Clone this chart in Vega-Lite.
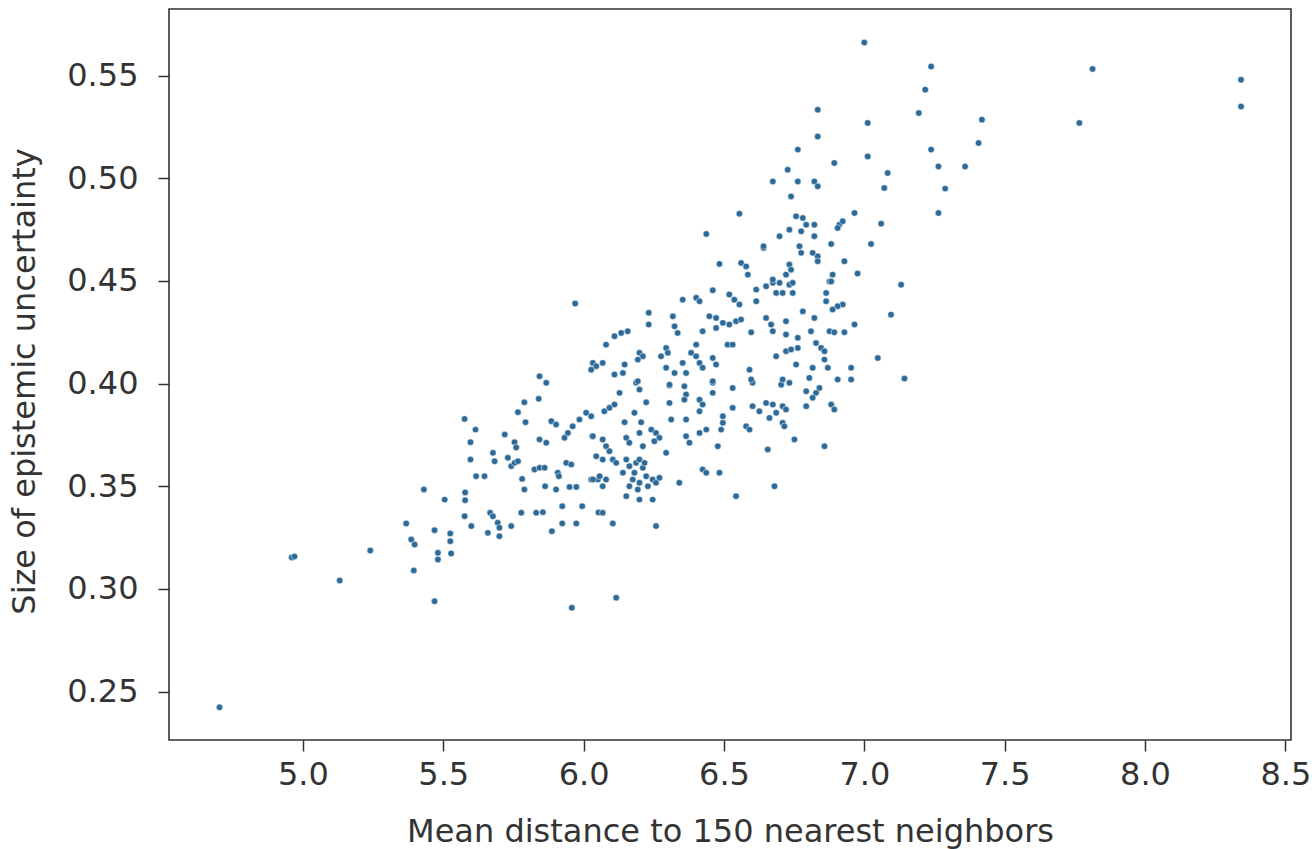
{
  "$schema": "https://vega.github.io/schema/vega-lite/v6.json",
  "width": 1122,
  "height": 731,
  "autosize": "none",
  "padding": {"left": 169, "top": 9, "right": 21, "bottom": 109},
  "background": "white",
  "config": {
    "view": {"stroke": "#333333", "strokeWidth": 1.6},
    "axis": {
      "grid": false,
      "domain": false,
      "tickColor": "#333333",
      "tickWidth": 1.5,
      "tickSize": 11,
      "labelFont": "DejaVu Sans",
      "labelFontSize": 32,
      "labelColor": "#333333",
      "labelPadding": 12,
      "titleFont": "DejaVu Sans",
      "titleFontSize": 32,
      "titleFontWeight": "normal",
      "titleColor": "#333333"
    }
  },
  "data": {"values": [
    {"dist":4.703,"unc":0.2423},{"dist":4.960,"unc":0.3153},{"dist":4.970,"unc":0.3158},{"dist":5.131,"unc":0.3041},{"dist":5.240,"unc":0.3187},
    {"dist":5.368,"unc":0.3319},{"dist":5.386,"unc":0.3241},{"dist":5.398,"unc":0.3216},{"dist":5.395,"unc":0.3090},{"dist":5.431,"unc":0.3484},
    {"dist":5.469,"unc":0.3286},{"dist":5.469,"unc":0.2940},{"dist":5.481,"unc":0.3176},{"dist":5.481,"unc":0.3143},{"dist":5.505,"unc":0.3435},
    {"dist":5.525,"unc":0.3270},{"dist":5.525,"unc":0.3232},{"dist":5.528,"unc":0.3173},{"dist":5.576,"unc":0.3828},{"dist":5.615,"unc":0.3776},
    {"dist":5.597,"unc":0.3715},{"dist":5.597,"unc":0.3630},{"dist":5.617,"unc":0.3549},{"dist":5.647,"unc":0.3549},{"dist":5.578,"unc":0.3470},
    {"dist":5.578,"unc":0.3432},{"dist":5.576,"unc":0.3354},{"dist":5.600,"unc":0.3306},{"dist":5.958,"unc":0.2908},{"dist":5.667,"unc":0.3371},
    {"dist":5.677,"unc":0.3354},{"dist":5.659,"unc":0.3273},{"dist":5.694,"unc":0.3322},{"dist":5.700,"unc":0.3298},{"dist":5.700,"unc":0.3257},
    {"dist":5.742,"unc":0.3306},{"dist":5.778,"unc":0.3371},{"dist":5.831,"unc":0.3371},{"dist":5.855,"unc":0.3374},{"dist":5.887,"unc":0.3281},
    {"dist":5.924,"unc":0.3319},{"dist":5.974,"unc":0.3319},{"dist":5.924,"unc":0.3403},{"dist":5.995,"unc":0.3403},{"dist":6.053,"unc":0.3372},
    {"dist":5.789,"unc":0.3909},{"dist":5.840,"unc":0.3926},{"dist":5.766,"unc":0.3861},{"dist":5.793,"unc":0.3812},{"dist":5.867,"unc":0.4004},
    {"dist":5.843,"unc":0.4036},{"dist":5.885,"unc":0.3817},{"dist":5.902,"unc":0.3801},{"dist":5.843,"unc":0.3728},{"dist":5.867,"unc":0.3712},
    {"dist":5.719,"unc":0.3752},{"dist":5.754,"unc":0.3715},{"dist":5.760,"unc":0.3689},{"dist":5.677,"unc":0.3663},{"dist":5.683,"unc":0.3622},
    {"dist":5.730,"unc":0.3639},{"dist":5.742,"unc":0.3598},{"dist":5.754,"unc":0.3614},{"dist":5.766,"unc":0.3622},{"dist":5.825,"unc":0.3582},
    {"dist":5.843,"unc":0.3590},{"dist":5.861,"unc":0.3590},{"dist":5.781,"unc":0.3536},{"dist":5.789,"unc":0.3484},{"dist":5.863,"unc":0.3500},
    {"dist":5.908,"unc":0.3566},{"dist":5.912,"unc":0.3549},{"dist":5.902,"unc":0.3484},{"dist":5.950,"unc":0.3497},{"dist":5.974,"unc":0.3497},
    {"dist":5.938,"unc":0.3614},{"dist":5.956,"unc":0.3606},{"dist":5.932,"unc":0.3736},{"dist":5.944,"unc":0.3760},{"dist":5.961,"unc":0.3792},
    {"dist":5.985,"unc":0.3825},{"dist":6.009,"unc":0.3858},{"dist":6.027,"unc":0.3841},{"dist":6.031,"unc":0.3744},{"dist":6.045,"unc":0.3646},
    {"dist":6.027,"unc":0.3533},{"dist":6.051,"unc":0.3533},{"dist":6.306,"unc":0.3991},{"dist":6.359,"unc":0.3987},{"dist":6.365,"unc":0.3947},
    {"dist":6.359,"unc":0.3922},{"dist":6.306,"unc":0.3906},{"dist":6.223,"unc":0.3909},{"dist":6.128,"unc":0.3955},{"dist":6.187,"unc":0.4004},
    {"dist":6.199,"unc":0.3971},{"dist":6.074,"unc":0.3865},{"dist":6.092,"unc":0.3882},{"dist":6.110,"unc":0.3898},{"dist":6.146,"unc":0.3812},
    {"dist":6.205,"unc":0.3812},{"dist":6.181,"unc":0.3858},{"dist":6.312,"unc":0.3825},{"dist":6.365,"unc":0.3825},{"dist":6.413,"unc":0.3922},
    {"dist":6.424,"unc":0.3898},{"dist":6.413,"unc":0.3865},{"dist":6.460,"unc":0.3955},{"dist":6.460,"unc":0.4004},{"dist":6.531,"unc":0.3979},
    {"dist":6.531,"unc":0.3882},{"dist":6.496,"unc":0.3841},{"dist":6.496,"unc":0.3809},{"dist":6.490,"unc":0.3776},{"dist":6.413,"unc":0.3760},
    {"dist":6.437,"unc":0.3776},{"dist":6.365,"unc":0.3744},{"dist":6.377,"unc":0.3712},{"dist":6.478,"unc":0.3695},{"dist":6.579,"unc":0.3792},
    {"dist":6.591,"unc":0.3776},{"dist":6.602,"unc":0.3890},{"dist":6.626,"unc":0.3865},{"dist":6.650,"unc":0.3906},{"dist":6.674,"unc":0.3898},
    {"dist":6.686,"unc":0.3858},{"dist":6.709,"unc":0.3809},{"dist":6.662,"unc":0.3833},{"dist":6.602,"unc":0.4004},{"dist":6.704,"unc":0.3995},
    {"dist":6.656,"unc":0.3679},{"dist":6.680,"unc":0.3500},{"dist":6.543,"unc":0.3452},{"dist":6.424,"unc":0.3582},{"dist":6.437,"unc":0.3566},
    {"dist":6.484,"unc":0.3566},{"dist":6.341,"unc":0.3517},{"dist":6.294,"unc":0.3663},{"dist":6.258,"unc":0.3306},{"dist":6.246,"unc":0.3435},
    {"dist":6.199,"unc":0.3435},{"dist":6.152,"unc":0.3452},{"dist":6.068,"unc":0.3371},{"dist":6.104,"unc":0.3319},{"dist":6.116,"unc":0.2957},
    {"dist":6.140,"unc":0.3566},{"dist":6.163,"unc":0.3598},{"dist":6.187,"unc":0.3614},{"dist":6.211,"unc":0.3590},{"dist":6.175,"unc":0.3533},
    {"dist":6.199,"unc":0.3517},{"dist":6.223,"unc":0.3549},{"dist":6.246,"unc":0.3533},{"dist":6.270,"unc":0.3541},{"dist":6.163,"unc":0.3500},
    {"dist":6.193,"unc":0.3484},{"dist":6.229,"unc":0.3500},{"dist":6.258,"unc":0.3517},{"dist":6.152,"unc":0.3630},{"dist":6.199,"unc":0.3630},
    {"dist":6.217,"unc":0.3614},{"dist":6.181,"unc":0.3566},{"dist":6.033,"unc":0.3744},{"dist":6.068,"unc":0.3728},{"dist":6.080,"unc":0.3695},
    {"dist":6.092,"unc":0.3671},{"dist":6.068,"unc":0.3630},{"dist":6.104,"unc":0.3630},{"dist":6.057,"unc":0.3549},{"dist":6.080,"unc":0.3533},
    {"dist":6.033,"unc":0.3533},{"dist":6.068,"unc":0.3500},{"dist":6.116,"unc":0.3614},{"dist":6.152,"unc":0.3736},{"dist":6.163,"unc":0.3712},
    {"dist":6.199,"unc":0.3760},{"dist":6.211,"unc":0.3695},{"dist":6.241,"unc":0.3776},{"dist":6.258,"unc":0.3760},{"dist":6.270,"unc":0.3736},
    {"dist":6.252,"unc":0.3719},
    {"dist":7.131,"unc":0.4482},{"dist":7.095,"unc":0.4336},{"dist":6.965,"unc":0.4288},{"dist":6.923,"unc":0.4385},{"dist":6.905,"unc":0.4377},
    {"dist":6.887,"unc":0.4361},{"dist":6.864,"unc":0.4442},{"dist":6.864,"unc":0.4401},{"dist":6.876,"unc":0.4498},{"dist":6.733,"unc":0.4482},
    {"dist":6.745,"unc":0.4442},{"dist":6.709,"unc":0.4442},{"dist":6.781,"unc":0.4352},{"dist":6.822,"unc":0.4320},{"dist":6.721,"unc":0.4304},
    {"dist":6.810,"unc":0.4255},{"dist":6.876,"unc":0.4255},{"dist":6.893,"unc":0.4250},{"dist":6.929,"unc":0.4250},{"dist":6.721,"unc":0.4239},
    {"dist":6.763,"unc":0.4223},{"dist":6.763,"unc":0.4174},{"dist":6.721,"unc":0.4158},{"dist":6.739,"unc":0.4166},{"dist":6.828,"unc":0.4198},
    {"dist":6.846,"unc":0.4174},{"dist":6.858,"unc":0.4158},{"dist":7.048,"unc":0.4125},{"dist":6.757,"unc":0.4093},{"dist":6.816,"unc":0.4077},
    {"dist":6.858,"unc":0.4117},{"dist":6.870,"unc":0.4077},{"dist":6.953,"unc":0.4077},{"dist":6.953,"unc":0.4020},{"dist":6.905,"unc":0.4020},
    {"dist":7.143,"unc":0.4025},{"dist":6.804,"unc":0.4028},{"dist":6.709,"unc":0.4020},{"dist":6.733,"unc":0.4004},{"dist":6.840,"unc":0.3979},
    {"dist":6.828,"unc":0.3955},{"dist":6.816,"unc":0.3931},{"dist":6.793,"unc":0.3963},{"dist":6.793,"unc":0.3890},{"dist":6.882,"unc":0.3898},
    {"dist":6.893,"unc":0.3874},{"dist":6.709,"unc":0.3890},{"dist":6.721,"unc":0.3874},{"dist":6.715,"unc":0.3792},{"dist":6.751,"unc":0.3728},
    {"dist":6.858,"unc":0.3695},
    {"dist":6.555,"unc":0.4828},{"dist":6.437,"unc":0.4729},{"dist":6.641,"unc":0.4661},{"dist":6.484,"unc":0.4583},{"dist":6.561,"unc":0.4588},
    {"dist":6.579,"unc":0.4571},{"dist":6.585,"unc":0.4531},{"dist":5.970,"unc":0.4390},{"dist":6.353,"unc":0.4409},{"dist":6.401,"unc":0.4418},
    {"dist":6.413,"unc":0.4401},{"dist":6.460,"unc":0.4455},{"dist":6.519,"unc":0.4434},{"dist":6.537,"unc":0.4409},{"dist":6.555,"unc":0.4385},
    {"dist":6.615,"unc":0.4458},{"dist":6.615,"unc":0.4401},{"dist":6.650,"unc":0.4474},{"dist":6.674,"unc":0.4491},{"dist":6.686,"unc":0.4442},
    {"dist":6.232,"unc":0.4345},{"dist":6.232,"unc":0.4288},{"dist":6.318,"unc":0.4328},{"dist":6.324,"unc":0.4279},{"dist":6.335,"unc":0.4247},
    {"dist":6.448,"unc":0.4328},{"dist":6.472,"unc":0.4320},{"dist":6.496,"unc":0.4296},{"dist":6.472,"unc":0.4271},{"dist":6.519,"unc":0.4288},
    {"dist":6.543,"unc":0.4304},{"dist":6.561,"unc":0.4312},{"dist":6.424,"unc":0.4255},{"dist":6.597,"unc":0.4250},{"dist":6.650,"unc":0.4320},
    {"dist":6.668,"unc":0.4288},{"dist":6.674,"unc":0.4255},{"dist":6.513,"unc":0.4190},{"dist":6.531,"unc":0.4190},{"dist":6.401,"unc":0.4190},
    {"dist":6.110,"unc":0.4231},{"dist":6.134,"unc":0.4247},{"dist":6.157,"unc":0.4255},{"dist":6.080,"unc":0.4190},{"dist":6.199,"unc":0.4150},
    {"dist":6.211,"unc":0.4133},{"dist":6.193,"unc":0.4117},{"dist":6.294,"unc":0.4174},{"dist":6.300,"unc":0.4150},{"dist":6.276,"unc":0.4133},
    {"dist":6.383,"unc":0.4150},{"dist":6.401,"unc":0.4133},{"dist":6.413,"unc":0.4101},{"dist":6.424,"unc":0.4077},{"dist":6.460,"unc":0.4125},
    {"dist":6.472,"unc":0.4093},{"dist":6.033,"unc":0.4101},{"dist":6.045,"unc":0.4085},{"dist":6.027,"unc":0.4068},{"dist":6.068,"unc":0.4101},
    {"dist":6.146,"unc":0.4093},{"dist":6.140,"unc":0.4052},{"dist":6.110,"unc":0.4044},{"dist":6.193,"unc":0.4012},{"dist":6.294,"unc":0.4077},
    {"dist":6.324,"unc":0.4052},{"dist":6.365,"unc":0.4052},{"dist":6.353,"unc":0.4101},{"dist":6.591,"unc":0.4068},{"dist":6.597,"unc":0.4020},
    {"dist":6.460,"unc":0.4012},{"dist":6.306,"unc":0.3995},{"dist":6.686,"unc":0.4133},
    {"dist":6.834,"unc":0.5334},{"dist":7.012,"unc":0.5270},{"dist":7.194,"unc":0.5318},{"dist":6.834,"unc":0.5204},{"dist":6.763,"unc":0.5140},
    {"dist":7.012,"unc":0.5107},{"dist":7.238,"unc":0.5140},{"dist":6.893,"unc":0.5075},{"dist":6.727,"unc":0.5042},{"dist":7.264,"unc":0.5058},
    {"dist":7.083,"unc":0.5026},{"dist":6.674,"unc":0.4985},{"dist":6.763,"unc":0.4985},{"dist":6.822,"unc":0.4985},{"dist":6.834,"unc":0.4961},
    {"dist":7.071,"unc":0.4953},{"dist":7.288,"unc":0.4950},{"dist":6.739,"unc":0.4912},{"dist":6.965,"unc":0.4831},{"dist":7.264,"unc":0.4831},
    {"dist":6.757,"unc":0.4815},{"dist":6.781,"unc":0.4807},{"dist":6.793,"unc":0.4774},{"dist":6.775,"unc":0.4742},{"dist":6.822,"unc":0.4774},
    {"dist":6.911,"unc":0.4774},{"dist":6.923,"unc":0.4791},{"dist":6.905,"unc":0.4758},{"dist":7.060,"unc":0.4779},{"dist":6.733,"unc":0.4750},
    {"dist":6.698,"unc":0.4718},{"dist":6.822,"unc":0.4718},{"dist":6.641,"unc":0.4669},{"dist":6.769,"unc":0.4669},{"dist":6.775,"unc":0.4637},
    {"dist":6.882,"unc":0.4680},{"dist":7.024,"unc":0.4680},{"dist":6.816,"unc":0.4637},{"dist":6.834,"unc":0.4620},{"dist":6.834,"unc":0.4596},
    {"dist":6.929,"unc":0.4596},{"dist":6.733,"unc":0.4580},{"dist":6.739,"unc":0.4555},{"dist":6.721,"unc":0.4531},{"dist":6.976,"unc":0.4536},
    {"dist":6.887,"unc":0.4531},{"dist":6.882,"unc":0.4498},{"dist":6.674,"unc":0.4507},{"dist":6.698,"unc":0.4491},{"dist":6.745,"unc":0.4491},
    {"dist":7.000,"unc":0.5662},{"dist":7.238,"unc":0.5545},{"dist":7.217,"unc":0.5432},{"dist":7.419,"unc":0.5286},{"dist":7.407,"unc":0.5172},
    {"dist":7.359,"unc":0.5058},{"dist":7.813,"unc":0.5533},{"dist":7.766,"unc":0.5270},{"dist":8.342,"unc":0.5480},{"dist":8.342,"unc":0.5350}
  ]},
  "mark": {"type": "point", "shape": "circle", "filled": true, "size": 42, "color": "#2d6a98", "opacity": 1, "stroke": "white", "strokeWidth": 0.5},
  "encoding": {
    "x": {
      "field": "dist", "type": "quantitative",
      "scale": {"domain": [4.523, 8.52], "nice": false, "zero": false},
      "axis": {
        "values": [5.0, 5.5, 6.0, 6.5, 7.0, 7.5, 8.0, 8.5],
        "format": ".1f",
        "labelPadding": 8,
        "title": "Mean distance to 150 nearest neighbors",
        "titleY": 91,
        "titleBaseline": "middle"
      }
    },
    "y": {
      "field": "unc", "type": "quantitative",
      "scale": {"domain": [0.2264, 0.5825], "nice": false, "zero": false},
      "axis": {
        "values": [0.25, 0.30, 0.35, 0.40, 0.45, 0.50, 0.55],
        "format": ".2f",
        "labelPadding": 20,
        "title": "Size of epistemic uncertainty",
        "titleX": -145,
        "titleY": 372,
        "titleBaseline": "middle",
        "titleAngle": -90,
        "titleAlign": "center"
      }
    }
  }
}
